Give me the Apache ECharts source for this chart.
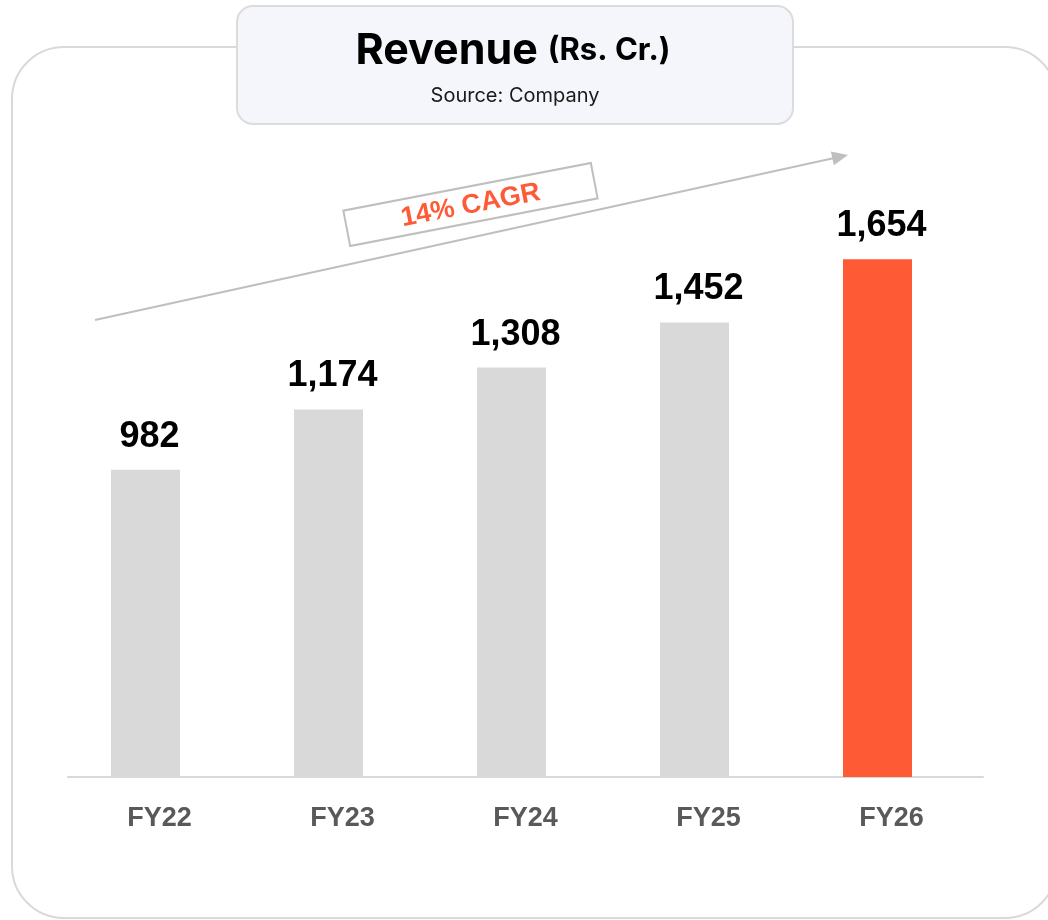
<!DOCTYPE html>
<html>
<head>
<meta charset="utf-8">
<title>Revenue (Rs. Cr.)</title>
<script src="https://cdn.jsdelivr.net/npm/echarts@6/dist/echarts.min.js"></script>
<style>
  html, body { margin: 0; padding: 0; background: #fff; }
  #chart { width: 1048px; height: 920px; }
</style>
</head>
<body>
<div id="chart"></div>
<script>
// values
const years = ["FY22", "FY23", "FY24", "FY25", "FY26"];
const revenue = [982, 1174, 1308, 1452, 1654];
const cagrText = "14% CAGR";

const grey = "#d9d9d9";
const orange = "#ff5a36";

let myChart = echarts.init(document.getElementById("chart"));

// arrow of the CAGR line
const ax0 = 95, ay0 = 320, ax1 = 848, ay1 = 155;
const len = Math.hypot(ax1 - ax0, ay1 - ay0);
const ux = (ax1 - ax0) / len, uy = (ay1 - ay0) / len;
const headL = 16, headW = 7;
const bx = ax1 - ux * headL, by = ay1 - uy * headL;

myChart.setOption({
  animation: false,
  grid: [
    {left: 54, width: 915, top: 151, height: 626},
    // base line + category labels sit a bit to the right of the bars
    {left: 68, width: 915, top: 151, height: 626}
  ],
  xAxis: [
    {
      type: "category",
      data: years,
      show: false
    },
    {
      gridIndex: 1,
      type: "category",
      data: years,
      axisLine: {show: true, lineStyle: {color: grey, width: 2}},
      axisTick: {show: false},
      axisLabel: {
        margin: 28,
        fontFamily: "Liberation Sans, Arial, sans-serif",
        fontWeight: "bold",
        fontSize: 27,
        color: "#595959"
      }
    }
  ],
  yAxis: [
    {type: "value", min: 0, max: 2000, show: false},
    {gridIndex: 1, type: "value", min: 0, max: 2000, show: false}
  ],
  series: [
    {
      type: "bar",
      data: revenue.map((v, i) => ({
        value: v,
        itemStyle: {color: i === revenue.length - 1 ? orange : grey}
      })),
      barWidth: 69,
      label: {
        show: true,
        position: "top",
        distance: 15,
        offset: [4, 0],
        fontFamily: "Liberation Sans, Arial, sans-serif",
        fontWeight: "bold",
        fontSize: 36,
        color: "#000",
        formatter: p => p.value.toLocaleString("en-US")
      }
    }
  ],
  graphic: [
    {
      // outer frame
      type: "rect",
      z: -10,
      shape: {x: 12, y: 47, width: 1045, height: 871, r: 52},
      style: {fill: "#fff", stroke: grey, lineWidth: 2}
    },
    {
      // title box
      type: "rect",
      z: 5,
      shape: {x: 237, y: 6, width: 556, height: 118, r: 16},
      style: {fill: "#f5f6fb", stroke: "#dcdcdc", lineWidth: 2}
    },
    {
      type: "text",
      z: 6,
      x: 513,
      y: 51,
      style: {
        text: "{a|Revenue}{s| }{b|(Rs. Cr.)}",
        align: "center",
        verticalAlign: "middle",
        rich: {
          a: {fontFamily: "Inter, sans-serif", fontWeight: "bold", fontSize: 43, fill: "#000"},
          s: {fontFamily: "Inter, sans-serif", fontSize: 30, width: 10},
          b: {fontFamily: "Inter, sans-serif", fontWeight: "bold", fontSize: 31, fill: "#000"}
        }
      }
    },
    {
      type: "text",
      z: 6,
      x: 515,
      y: 96,
      style: {
        text: "Source: Company",
        align: "center",
        verticalAlign: "middle",
        fontFamily: "Inter, sans-serif",
        fontSize: 20,
        fill: "#1a1a1a"
      }
    },
    {
      // CAGR arrow
      type: "line",
      z: 3,
      shape: {x1: ax0, y1: ay0, x2: bx + ux * 2, y2: by + uy * 2},
      style: {stroke: "#bfbfbf", lineWidth: 2}
    },
    {
      type: "polygon",
      z: 3,
      shape: {points: [[ax1, ay1], [bx - uy * headW, by + ux * headW], [bx + uy * headW, by - ux * headW]]},
      style: {fill: "#bfbfbf"}
    },
    {
      type: "group",
      z: 4,
      x: 470.5,
      y: 204.5,
      rotation: 10.9 * Math.PI / 180,
      children: [
        {
          type: "rect",
          shape: {x: -126, y: -18, width: 252, height: 36},
          style: {fill: "#fff", stroke: "#bfbfbf", lineWidth: 2}
        },
        {
          type: "text",
          x: 0,
          y: 1,
          style: {
            text: cagrText,
            align: "center",
            verticalAlign: "middle",
            fontFamily: "Liberation Sans, Arial, sans-serif",
            fontWeight: "bold",
            fontSize: 27,
            fill: orange
          }
        }
      ]
    }
  ]
});
</script>
</body>
</html>
